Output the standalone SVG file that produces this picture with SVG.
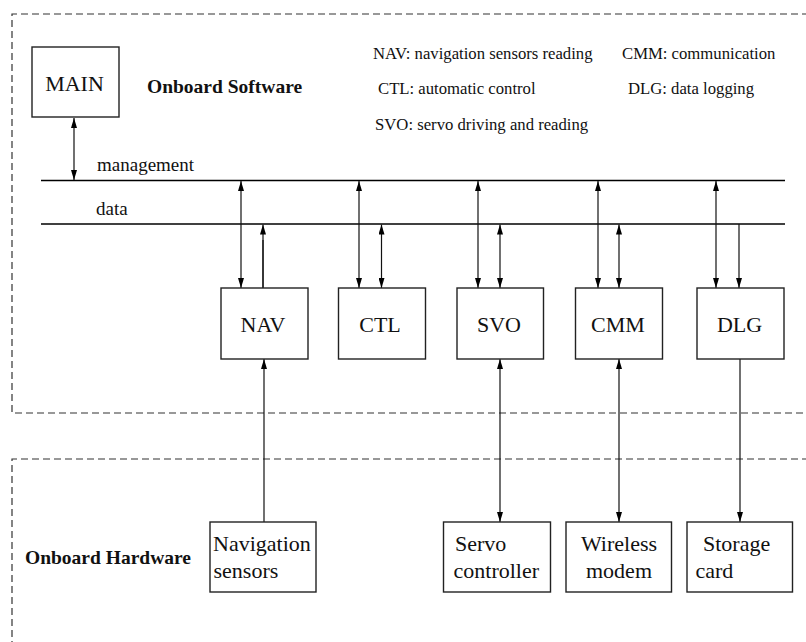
<svg xmlns="http://www.w3.org/2000/svg" width="806" height="642" viewBox="0 0 806 642">
<style>
  .frame{fill:none;stroke:#333;stroke-width:1.2;stroke-dasharray:7 4}
  .box{fill:#fff;stroke:#222;stroke-width:1.4}
  .bus{stroke:#000;stroke-width:1.3;fill:none}
  .c{stroke:#111;stroke-width:1.2;fill:none}
  .both{marker-start:url(#ah);marker-end:url(#ah)}
  .end{marker-end:url(#ah)}
  .lbl{font-family:"Liberation Serif","Times New Roman",serif;font-size:22px;fill:#111}
  .mid{text-anchor:middle}
  .leg{font-family:"Liberation Serif","Times New Roman",serif;font-size:16.7px;fill:#111}
  .bold{font-family:"Liberation Serif","Times New Roman",serif;font-size:19.5px;font-weight:bold;fill:#111}
  .bl{font-family:"Liberation Serif","Times New Roman",serif;font-size:19px;fill:#111}
</style>
<defs>
  <marker id="ah" markerUnits="userSpaceOnUse" markerWidth="10" markerHeight="6" refX="10" refY="3" orient="auto-start-reverse">
    <path d="M0,0 L10,3 L0,6 z" fill="#000"/>
  </marker>
</defs>
<rect width="806" height="642" fill="#fff"/>

<g id="frames">
  <path class="frame" d="M820,14 H12 V413 H820"/>
  <path class="frame" d="M820,459 H12 V660"/>
  <text class="bold" x="147" y="93">Onboard Software</text>
  <text class="bold" x="25" y="564">Onboard Hardware</text>
</g>

<g id="legend">
  <text class="leg" x="373" y="59">NAV: navigation sensors reading</text>
  <text class="leg" x="622" y="59">CMM: communication</text>
  <text class="leg" x="378" y="94">CTL: automatic control</text>
  <text class="leg" x="628" y="94">DLG: data logging</text>
  <text class="leg" x="375" y="130">SVO: servo driving and reading</text>
</g>

<g id="buses">
  <line class="bus" x1="41" y1="180.5" x2="785" y2="180.5"/>
  <line class="bus" x1="41" y1="224" x2="785" y2="224"/>
  <text class="bl" x="97" y="171">management</text>
  <text class="bl" x="96" y="215">data</text>
</g>

<g id="connectors">
  <line class="c both" x1="74" y1="118" x2="74" y2="180"/>
  <line class="c both" x1="241" y1="181" x2="241" y2="288"/>
  <line class="c" x1="263" y1="288" x2="263" y2="240"/>
  <line class="c end" x1="263" y1="288" x2="263" y2="224.5"/>
  <line class="c both" x1="359" y1="181" x2="359" y2="288"/>
  <line class="c both" x1="381.5" y1="224.5" x2="381.5" y2="288"/>
  <line class="c both" x1="478" y1="181" x2="478" y2="288"/>
  <line class="c both" x1="500" y1="224.5" x2="500" y2="288"/>
  <line class="c both" x1="598" y1="181" x2="598" y2="288"/>
  <line class="c both" x1="619" y1="224.5" x2="619" y2="288"/>
  <line class="c both" x1="716" y1="181" x2="716" y2="288"/>
  <line class="c end" x1="739" y1="224" x2="739" y2="288"/>
  <line class="c end" x1="264" y1="522" x2="264" y2="359"/>
  <line class="c both" x1="500" y1="359" x2="500" y2="522"/>
  <line class="c both" x1="619" y1="359" x2="619" y2="522"/>
  <line class="c end" x1="740" y1="359" x2="740" y2="522"/>
</g>

<g id="MAIN">
  <rect class="box" x="32" y="47" width="87" height="70"/>
  <text class="lbl mid" x="74.5" y="91">MAIN</text>
</g>
<g id="NAV">
  <rect class="box" x="221" y="288" width="87" height="71"/>
  <text class="lbl mid" x="263" y="332">NAV</text>
</g>
<g id="CTL">
  <rect class="box" x="338.5" y="288" width="87" height="71"/>
  <text class="lbl mid" x="380" y="332">CTL</text>
</g>
<g id="SVO">
  <rect class="box" x="457" y="288" width="86.5" height="71"/>
  <text class="lbl mid" x="499" y="332">SVO</text>
</g>
<g id="CMM">
  <rect class="box" x="575.5" y="288" width="87" height="71"/>
  <text class="lbl mid" x="618" y="332">CMM</text>
</g>
<g id="DLG">
  <rect class="box" x="697" y="288" width="87" height="71"/>
  <text class="lbl mid" x="739.5" y="332">DLG</text>
</g>

<g id="NavSensors">
  <rect class="box" x="210" y="522" width="106" height="70"/>
  <text class="lbl" x="213" y="551">Navigation</text>
  <text class="lbl" x="213.5" y="578">sensors</text>
</g>
<g id="ServoController">
  <rect class="box" x="443.5" y="522" width="107" height="70"/>
  <text class="lbl" x="455" y="551">Servo</text>
  <text class="lbl" x="453.5" y="578">controller</text>
</g>
<g id="WirelessModem">
  <rect class="box" x="566" y="522" width="105.5" height="70"/>
  <text class="lbl mid" x="619" y="551">Wireless</text>
  <text class="lbl mid" x="619" y="578">modem</text>
</g>
<g id="StorageCard">
  <rect class="box" x="687" y="522" width="105.5" height="70"/>
  <text class="lbl" x="703" y="551">Storage</text>
  <text class="lbl" x="695.5" y="578">card</text>
</g>
</svg>
